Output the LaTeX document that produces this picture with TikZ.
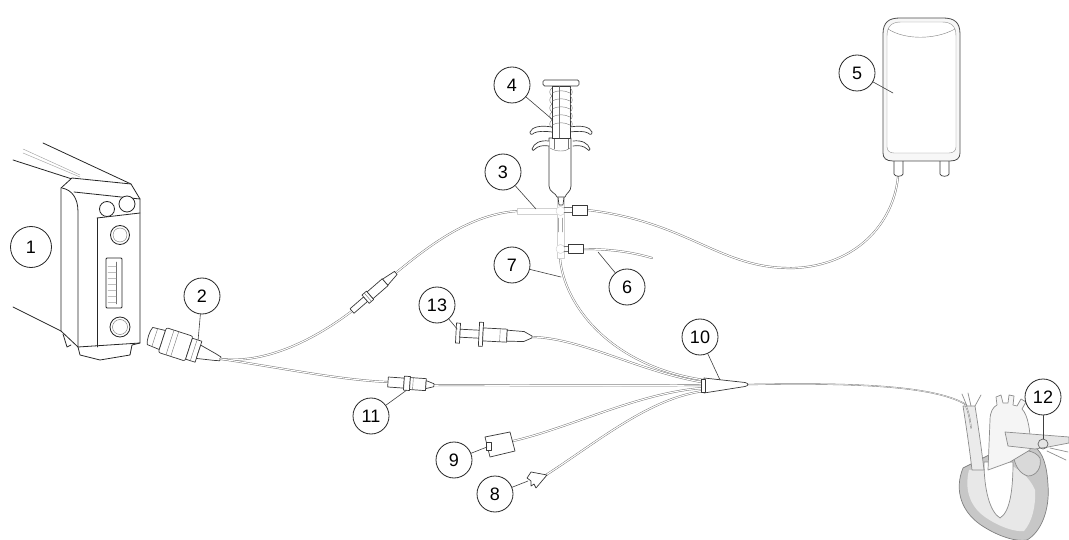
\documentclass[tikz,border=0pt]{standalone}
\usepackage{fontspec}
\setmainfont{Liberation Sans}
\begin{document}
\begin{tikzpicture}[x=1pt,y=-1pt,line join=round,line cap=round,
  callout/.style={circle,draw=black!85,line width=0.8pt,minimum size=36pt,inner sep=0pt,fill=white,font=\fontsize{18}{18}\selectfont},
  leader/.style={draw=black!75,line width=0.6pt},
  tube/.style={draw=black!55,line width=0.45pt,double=white,double distance=1.1pt},
  catheter/.style={draw=black!55,line width=0.4pt,double=white,double distance=0.5pt},
  pale/.style={draw=black!18,line width=0.5pt,fill=white},
  part/.style={draw=black!78,line width=0.7pt,fill=white},
  fine/.style={draw=black!55,line width=0.4pt},
  body/.style={draw=black!85,line width=0.8pt,fill=white},
  heart/.style={draw=black!45,line width=0.7pt}]

\useasboundingbox (0,0) rectangle (1069,540);

% ---------------- monitor ----------------
\draw[body,fill=none] (43,143) -- (131,184);
\draw[body,fill=none] (13,160) -- (72,179);
\draw[fine,draw=black!40] (23,149) -- (80,175);
\draw[fine,draw=black!40] (23,153) -- (80,177);
\draw[body,fill=none] (13,307) -- (61,331);
\draw[body] (61,188) -- (72,178) -- (131,184) -- (140,199) -- (140,343) -- (132,345)
  -- (130,355) -- (100,360) -- (80,355) -- (78,347) -- (61,331) -- cycle;
\draw[body,fill=none] (63,334) -- (67,347) -- (71,345);
\draw[body,fill=none] (62,188) .. controls (72,190) and (78,198) .. (78,212) -- (78,347);
\draw[body,fill=none] (74,192) -- (140,199);
\draw[body,fill=none] (78,347) -- (140,343);
\draw[body,fill=none] (97,218) -- (140,213);
\draw[body,fill=none] (97,218) -- (97,347);
\draw[body] (107,209) circle (7.5);
\draw[body] (127,204) circle (8);
\draw[body] (120,235) circle (9.5);
\draw[fine] (120,235) circle (7);
\draw[body,rounded corners=1pt] (106,258) rectangle (122,308);
\draw[fine] (116,262) -- (116,304);
\foreach \yy in {266,272,...,302} \draw[fine,draw=black!25] (108,\yy) -- (116,\yy);
\draw[body] (120,327) circle (10);
\draw[fine] (120,327) circle (7.5);

% ---------------- monitor plug ----------------
\begin{scope}[shift={(150,336)},rotate=-18]
  \draw[part] (0,-9) -- (13,-10) -- (13,10) -- (0,9) .. controls (-2,5) and (-2,-5) .. (0,-9);
  \draw[fine] (5,-9.5) -- (5,9.5);
  \draw[part,rounded corners=2pt] (13,-13) rectangle (41,13);
  \draw[fine] (21,-13) -- (21,13);
  \draw[fine] (26,-13) -- (26,13);
  \draw[part] (41,-11) rectangle (51,11);
  \draw[fine] (46,-11) -- (46,11);
  \draw[part] (51,-7) -- (68,-3.5) -- (74,-2) -- (74,2) -- (68,3.5) -- (51,7) -- cycle;
  \coordinate (plugtip) at (74,0);
  \coordinate (t2) at (47,-11);
\end{scope}

% ---------------- inline connector on the transducer cable ----------------
\begin{scope}[shift={(352,311)},rotate=41]
  \coordinate (ilA) at (0,0);
  \coordinate (ilB) at (58,0);
\end{scope}

% ---------------- connector 11 ----------------
\begin{scope}[shift={(388,382)},rotate=-4]
  \coordinate (c11A) at (0,0);
  \coordinate (c11B) at (46,0);
  \coordinate (t11) at (19,7);
\end{scope}

% ---------------- syringe 13 ----------------
\begin{scope}[shift={(456,333)},rotate=-3]
  \coordinate (s13tip) at (76,0);
  \coordinate (t13) at (1,-4);
\end{scope}

% ---------------- hub entries ----------------
\coordinate (h7) at (704,380);
\coordinate (h13) at (704,382.5);
\coordinate (h11) at (704,385);
\coordinate (h9) at (704,388);
\coordinate (h8) at (704,391);
\coordinate (hubtip) at (748,384.5);

% ---------------- connectors 9 and 8, stopcock ends ----------------
\coordinate (c9) at (513,441);
\coordinate (c8) at (546,475);
\coordinate (sc1) at (587,210);
\coordinate (sc2) at (583,249);
\coordinate (end6) at (652,258);
\coordinate (man7) at (560,258);
\coordinate (bagport) at (898,177);
\coordinate (svc) at (965,404);

% ---------------- tubing ----------------
\draw[tube] (plugtip) .. controls (262,364) and (310,343) .. (ilA);
\draw[tube] (ilB) .. controls (430,245) and (470,214) .. (518,211);
\draw[tube] (plugtip) .. controls (282,368) and (340,380) .. (c11A);
\draw[tube] (c11B) .. controls (520,385) and (620,386) .. (h11);
\draw[tube] (s13tip) .. controls (582,338) and (640,372) .. (h13);
\draw[tube] (man7) .. controls (564,305) and (610,366) .. (h7);
\draw[tube] (c9) .. controls (570,428) and (640,392) .. (h9);
\draw[tube] (c8) .. controls (600,440) and (650,398) .. (h8);
\draw[tube] (sc2) .. controls (610,249) and (632,252) .. (end6);
\draw[tube] (sc1) .. controls (690,222) and (720,270) .. (795,268)
  .. controls (855,265) and (893,225) .. (bagport);
\draw[catheter] (hubtip) .. controls (840,383) and (930,384) .. (svc);

% ---------------- inline connector body ----------------
\begin{scope}[shift={(352,311)},rotate=41]
  \draw[part] (0,-3) rectangle (18,3);
  \draw[part] (18,-5.5) rectangle (24,5.5);
  \draw[fine] (21,-5.5) -- (21,5.5);
  \draw[part] (24,-4.5) rectangle (44,4.5);
  \draw[part] (44,-4) -- (58,-2) -- (58,2) -- (44,4) -- cycle;
\end{scope}

% ---------------- connector 11 body ----------------
\begin{scope}[shift={(388,382)},rotate=-4]
  \draw[part] (0,-5) rectangle (16,5);
  \draw[part] (16,-7) rectangle (22,7);
  \draw[part] (22,-6) rectangle (38,6);
  \draw[fine] (25,-6) -- (25,6);
  \draw[part] (38,-4) -- (46,-1.5) -- (46,1.5) -- (38,4) -- cycle;
\end{scope}

% ---------------- syringe 13 body ----------------
\begin{scope}[shift={(456,333)},rotate=-3]
  \draw[part] (0,-10) rectangle (4,10);
  \draw[part] (4,-4) rectangle (24,4);
  \draw[part] (23,-12) rectangle (27,12);
  \draw[part] (27,-6.5) rectangle (51,6.5);
  \draw[fine] (44,-6.5) -- (44,6.5);
  \draw[part] (51,-5.5) -- (68,-5) -- (76,-1) -- (76,1) -- (68,5) -- (51,5.5) -- cycle;
\end{scope}

% ---------------- connectors 9 and 8 ----------------
\draw[part] (485,437) -- (510,432) -- (515,451) -- (490,457) -- cycle;
\draw[part] (486,442) rectangle (491,450);
\draw[part] (527,478) -- (531,472) -- (547,475) -- (536,488) -- (534,484)
  -- (531,486) -- (531,481) -- cycle;

% ---------------- hub ----------------
\draw[part] (704,378) -- (745,382.5) .. controls (749,383.5) and (749,385.5) .. (745,386.5)
  -- (704,393) -- cycle;
\draw[part] (701,379) rectangle (705,392);

% ---------------- stopcock manifold ----------------
\draw[pale] (517,208) rectangle (557,214);
\draw[pale] (557,192) rectangle (564,258);
\draw[pale] (560.5,211) circle (4.5);
\draw[pale] (560.5,249) circle (4.5);
\draw[fine,draw=black!35] (558.5,218) -- (558.5,232);
\draw[fine,draw=black!35] (562.5,218) -- (562.5,232);
\draw[fine] (564,207.5) -- (572,207.5);
\draw[fine] (564,212.5) -- (572,212.5);
\draw[part] (572,205) rectangle (587,215);
\draw[fine] (564,246.5) -- (568,246.5);
\draw[fine] (564,251.5) -- (568,251.5);
\draw[part] (568,244) rectangle (583,253);

% ---------------- flush syringe 4 ----------------
\draw[part] (558,197) -- (559,192) -- (563,192) -- (564,197) -- (563,205) -- (559,205) -- cycle;
\draw[part] (549,138) -- (549,186) .. controls (549,192) and (556,193) .. (557,197)
  -- (565,197) .. controls (566,193) and (571,192) .. (571,186) -- (571,138) -- cycle;
\draw[fine] (550,148) .. controls (556,152) and (566,152) .. (570,148);
\draw[fine] (554,138) -- (554,149);
\draw[fine] (568,138) -- (568,149);
\foreach \s in {1,-1} {
  \draw[part] ({561-\s*9},127) .. controls ({561-\s*21},125) and ({561-\s*29},127) .. ({561-\s*31},132)
    .. controls ({561-\s*31},135) and ({561-\s*29},135) .. ({561-\s*27},133)
    .. controls ({561-\s*23},131) and ({561-\s*16},131) .. ({561-\s*9},132);
  \draw[part] ({561-\s*12},141) .. controls ({561-\s*21},140) and ({561-\s*27},143) .. ({561-\s*29},149)
    .. controls ({561-\s*29},151) and ({561-\s*27},151) .. ({561-\s*26},149)
    .. controls ({561-\s*23},146) and ({561-\s*18},145) .. ({561-\s*12},146);
}
\draw[part] (552,86) rectangle (570,138);
\foreach \yy in {92,100,...,124} {
  \draw[fine] (552,\yy-4) .. controls (549,\yy-2) and (549,\yy+2) .. (552,\yy+4);
  \draw[fine] (570,\yy-4) .. controls (573,\yy-2) and (573,\yy+2) .. (570,\yy+4);
  \draw[fine] (552,\yy+1) .. controls (558,\yy-2) and (564,\yy-2) .. (570,\yy+1);
}
\draw[fine] (559,86) -- (559,138);
\draw[part,rounded corners=1.5pt] (543,80) rectangle (579,86);

% ---------------- pressure bag ----------------
\draw[part] (894,158) -- (894,174) .. controls (894,177) and (903,177) .. (903,174) -- (903,158);
\draw[part] (940,158) -- (940,174) .. controls (940,177) and (949,177) .. (949,174) -- (949,158);
\draw[body,draw=black!70,fill=black!3] (883,153) -- (883,34) .. controls (883,22) and (889,18) .. (900,18)
  -- (943,18) .. controls (954,18) and (960,22) .. (960,34) -- (960,153)
  .. controls (960,158) and (957,161) .. (950,161) -- (893,161)
  .. controls (886,161) and (883,158) .. (883,153) -- cycle;
\draw[fine,draw=black!45,fill=white] (887,147) -- (887,36) .. controls (887,26) and (892,22) .. (901,22)
  -- (942,22) .. controls (951,22) and (956,26) .. (956,36) -- (956,147)
  .. controls (956,151) and (953,153) .. (949,153) -- (894,153)
  .. controls (890,153) and (887,151) .. (887,147) -- cycle;
\draw[fine,draw=black!50] (888,29) .. controls (905,40) and (935,40) .. (955,29);

% ---------------- heart ----------------
% ventricles
\draw[heart,draw=black!50,fill=black!22] (963,468) .. controls (954,490) and (961,513) .. (984,527)
  .. controls (1000,537) and (1017,542) .. (1027,540) .. controls (1041,532) and (1050,510) .. (1048,485)
  .. controls (1047,466) and (1043,453) .. (1035,447) -- (995,452) -- cycle;
% lighter front wall
\fill[black!9] (969,470) .. controls (964,490) and (970,508) .. (988,519)
  .. controls (1002,528) and (1016,532) .. (1024,531) .. controls (1032,522) and (1036,506) .. (1035,490)
  .. controls (1030,478) and (1020,470) .. (1012,466) -- cycle;
% right ventricle cavity
\draw[heart,fill=white] (984,462) .. controls (984,490) and (990,512) .. (1000,518)
  .. controls (1010,512) and (1013,490) .. (1013,462) -- cycle;
% left atrium
\draw[heart,fill=black!15] (1013,452) .. controls (1022,449) and (1035,450) .. (1040,458)
  .. controls (1042,468) and (1036,476) .. (1028,476) .. controls (1020,474) and (1014,466) .. (1013,452);
% superior vena cava
\draw[heart,fill=black!8] (963,406) .. controls (966,425) and (969,445) .. (972,470)
  -- (984,470) .. controls (981,445) and (978,425) .. (975,406) -- cycle;
\draw[heart] (967,406) -- (962,394);
\draw[heart] (971,406) -- (968,393);
\draw[heart] (975,406) -- (981,395);
% aorta with arch branches
\draw[heart,fill=black!4] (988,470) -- (990,420) .. controls (990,412) and (993,407) .. (997,405)
  -- (996,397) -- (1001,395) -- (1003,403) -- (1008,403) -- (1009,395) -- (1014,396) -- (1013,405)
  -- (1017,406) -- (1021,399) -- (1026,402) -- (1022,409)
  .. controls (1028,415) and (1031,432) .. (1030,450) -- (1010,462) -- cycle;
% pulmonary artery
\draw[heart,fill=black!10] (1005,432) -- (1069,437) -- (1069,443) -- (1048,447)
  -- (1035,449) -- (1008,446) -- cycle;
\draw[heart] (1047,451) -- (1066,460);
\draw[heart] (1050,448) -- (1068,452);
\draw[catheter] (svc) .. controls (968,410) and (970,418) .. (971,428);

% ---------------- callouts ----------------
\coordinate (t3) at (536,209);
\coordinate (t4) at (553,120);
\coordinate (t5) at (893,93);
\coordinate (t6) at (598,252);
\coordinate (t7) at (561,277);
\coordinate (t8) at (528,481);
\coordinate (t9) at (487,447);
\coordinate (t10) at (720,380);
\coordinate (t12) at (1043,439);

\node[callout,minimum size=41pt] (n1) at (31,247) {1};
\node[callout] (n2) at (202,296) {2};
\node[callout] (n3) at (503,172) {3};
\node[callout] (n4) at (512,85) {4};
\node[callout] (n5) at (857,73) {5};
\node[callout] (n6) at (627,287) {6};
\node[callout] (n7) at (512,265) {7};
\node[callout] (n8) at (495,494) {8};
\node[callout] (n9) at (454,460) {9};
\node[callout] (n10) at (700,337) {10};
\node[callout] (n11) at (371,416) {11};
\node[callout] (n12) at (1043,397) {12};
\node[callout] (n13) at (437,305) {13};

\draw[leader] (n2) -- (t2);
\draw[leader] (n3) -- (t3);
\draw[leader] (n4) -- (t4);
\draw[leader] (n5) -- (t5);
\draw[leader] (n6) -- (t6);
\draw[leader] (n7) -- (t7);
\draw[leader] (n8) -- (t8);
\draw[leader] (n9) -- (t9);
\draw[leader] (n10) -- (t10);
\draw[leader] (n11) -- (t11);
\draw[leader] (n12) -- (t12);
\draw[leader] (n13) -- (t13);
\draw[heart,draw=black!60] (1043,444) circle (5);
\end{tikzpicture}
\end{document}
